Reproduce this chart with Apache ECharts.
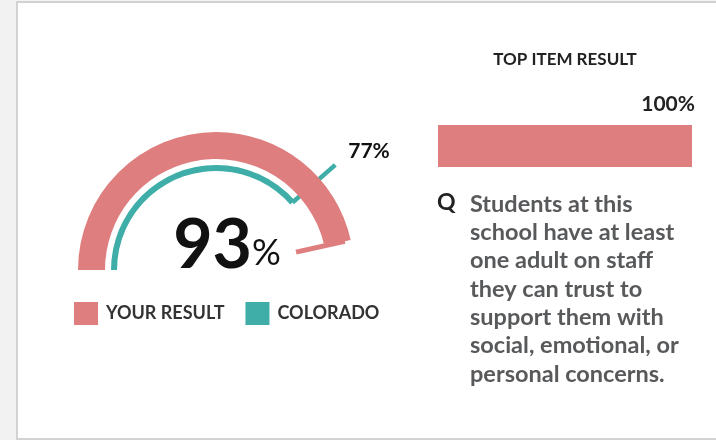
<!DOCTYPE html>
<html>
<head>
<meta charset="utf-8">
<script src="https://cdn.jsdelivr.net/npm/echarts@6/dist/echarts.min.js"></script>
<style>
  html, body { margin: 0; padding: 0; background: #f2f2f2; }
  #frame { position: absolute; left: 16px; top: 1px; width: 702px; height: 435px; background: #fff; border: 2px solid #d2d2d2; border-right: none; }
  #chart { position: absolute; left: 0; top: 0; width: 716px; height: 440px; }
</style>
</head>
<body>
<div id="frame"></div>
<div id="chart"></div>
<script>
// ---- data ----
const seriesNames = ['YOUR RESULT', 'COLORADO'];
const yourResult = [93];
const coloradoResult = [77];
const topItemCategories = ['Top item'];
const topItemValues = [100];
const topItemTitle = 'TOP ITEM RESULT';
const questionMark = 'Q';
const questionLines = [
  'Students at this',
  'school have at least',
  'one adult on staff',
  'they can trust to',
  'support them with',
  'social, emotional, or',
  'personal concerns.'
];

const PINK = '#df7e7f';
const TEAL = '#40aea8';
const FONT = 'Lato, "Open Sans", sans-serif';

const chart = echarts.init(document.getElementById('chart'), null, { renderer: 'canvas' });

const gaugeBase = {
  type: 'gauge',
  center: [216, 270],
  startAngle: 180,
  endAngle: 0,
  min: 0,
  max: 100,
  splitNumber: 10,
  axisLine: { show: false },
  axisTick: { show: false },
  splitLine: { show: false },
  axisLabel: { show: false },
  anchor: { show: false },
  title: { show: false },
  animation: false
};

const textGraphics = [
  {
    type: 'text', x: 565, y: 51,
    style: { text: topItemTitle, align: 'center', verticalAlign: 'top', font: 'bold 17px ' + FONT, fill: '#222' }
  },
  {
    type: 'text', x: 437, y: 191,
    style: { text: questionMark, align: 'left', verticalAlign: 'top', font: 'bold 23px ' + FONT, fill: '#222' }
  },
  {
    type: 'text', x: 470, y: 190,
    style: { text: questionLines.join('\n'), align: 'left', verticalAlign: 'top', font: 'bold 23.5px ' + FONT, lineHeight: 28.3, fill: '#58595b' }
  }
];

chart.setOption({
  animation: false,
  textStyle: { fontFamily: FONT },
  legend: {
    data: seriesNames,
    left: 69, top: 297,
    icon: 'rect',
    itemWidth: 24, itemHeight: 23,
    itemGap: 21,
    selectedMode: false,
    textStyle: { fontSize: 18, fontWeight: 'bold', color: '#333', padding: [0, 0, 0, 3] }
  },
  grid: { left: 438, top: 125, width: 254, height: 42 },
  xAxis: { type: 'value', min: 0, max: 100, show: false },
  yAxis: { type: 'category', data: topItemCategories, show: false },
  graphic: textGraphics,
  series: [
    Object.assign({}, gaugeBase, {
      name: seriesNames[0],
      radius: 138,
      itemStyle: { color: PINK },
      progress: { show: true, width: 27, itemStyle: { color: PINK } },
      pointer: { show: true, icon: 'rect', length: 50, width: 5, offsetCenter: [0, -82], itemStyle: { color: PINK } },
      detail: {
        show: true,
        offsetCenter: [11, -24],
        formatter: v => '{v|' + v + '}{p|%}',
        rich: {
          v: { fontSize: 68, fontWeight: 'bold', color: '#111', fontFamily: FONT },
          p: { fontSize: 36, fontWeight: 'normal', color: '#111', fontFamily: FONT, padding: [14, 0, 0, 0] }
        }
      },
      data: [{ value: yourResult[0], name: seriesNames[0] }]
    }),
    Object.assign({}, gaugeBase, {
      name: seriesNames[1],
      radius: 105,
      itemStyle: { color: TEAL },
      progress: { show: true, width: 6, itemStyle: { color: TEAL } },
      pointer: { show: true, icon: 'rect', length: 57, width: 4.5, offsetCenter: [0, -102], itemStyle: { color: TEAL } },
      detail: {
        show: true,
        offsetCenter: [153, -119],
        formatter: v => v + '%',
        fontSize: 21, fontWeight: 'bold', color: '#111', fontFamily: FONT
      },
      data: [{ value: coloradoResult[0], name: seriesNames[1] }]
    }),
    {
      type: 'bar',
      name: 'top',
      data: topItemValues,
      barWidth: 42,
      itemStyle: { color: PINK },
      silent: true,
      label: {
        show: true,
        position: ['100%', 0],
        align: 'right',
        verticalAlign: 'bottom',
        offset: [3, -10],
        formatter: '{c}%',
        fontSize: 21, fontWeight: 'bold', color: '#222', fontFamily: FONT
      }
    }
  ]
});
</script>
</body>
</html>
